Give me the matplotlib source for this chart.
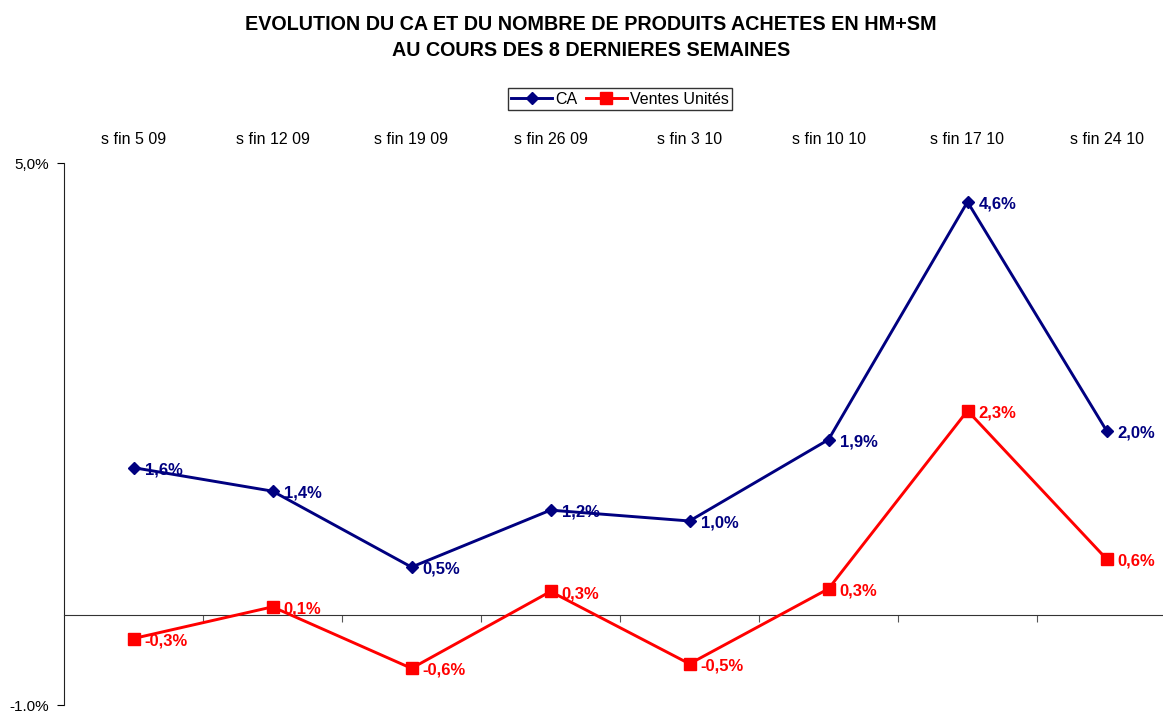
import numpy as np
import matplotlib.pyplot as plt

plt.rcParams['font.family'] = ['Liberation Sans', 'DejaVu Sans']

semaines = ["s fin 5 09", "s fin 12 09", "s fin 19 09", "s fin 26 09",
            "s fin 3 10", "s fin 10 10", "s fin 17 10", "s fin 24 10"]
ca = [1.63, 1.37, 0.53, 1.16, 1.04, 1.94, 4.57, 2.04]
ventes = [-0.26, 0.09, -0.59, 0.26, -0.54, 0.29, 2.26, 0.62]
ytick_vals = [-1.0, 5.0]
ytick_labels = ["-1.0%", "5,0%"]

fig = plt.figure(figsize=(11.63, 7.13), dpi=100)
ax = fig.add_axes([64 / 1163, 1 - 705.4 / 713, 1112 / 1163, (705.4 - 163) / 713])

x = np.arange(len(semaines))
ax.plot(x, ca, color='#000080', lw=2.1, marker='D', ms=6.5, label='CA', zorder=3)
ax.plot(x, ventes, color='#FF0000', lw=2.1, marker='s', ms=9, label='Ventes Unités', zorder=3)

def fmt(v):
    return f"{v:.1f}".replace('.', ',') + '%'

for xi, v in zip(x, ca):
    ax.annotate(fmt(v), (xi, v), xytext=(8, -1.5), textcoords='offset points',
                ha='left', va='center', fontsize=12, fontweight='bold', color='#000080')
for xi, v in zip(x, ventes):
    ax.annotate(fmt(v), (xi, v), xytext=(8, -1.5), textcoords='offset points',
                ha='left', va='center', fontsize=12, fontweight='bold', color='#FF0000')

ax.set_xlim(-0.5, 7.5)
ax.set_ylim(-1.0, 5.0)
ax.set_facecolor('none')
for s in ['top', 'right']:
    ax.spines[s].set_visible(False)
ax.spines['bottom'].set_position(('data', 0))
ax.spines['bottom'].set_color('#333333')
ax.spines['left'].set_color('#222222')

ax.set_xticks(x + 0.5)
ax.set_xticklabels([])
ax.tick_params(axis='x', direction='out', length=5, color='#555555')
ax.set_yticks(ytick_vals)
ax.set_yticklabels(ytick_labels, fontsize=11)
ax.tick_params(axis='y', direction='out', length=5, pad=6)

for xi, s in zip(x, semaines):
    ax.text(xi, 1.0 + 23 / 542, s, transform=ax.get_xaxis_transform(),
            ha='center', va='center', fontsize=11.5)

fig.text(0.508, 1 - 24 / 713, "EVOLUTION DU CA ET DU NOMBRE DE PRODUITS ACHETES EN HM+SM",
         ha='center', va='center', fontsize=14.2, fontweight='bold')
fig.text(0.508, 1 - 51 / 713, "AU COURS DES 8 DERNIERES SEMAINES",
         ha='center', va='center', fontsize=14.2, fontweight='bold')

leg = fig.legend(loc='center', bbox_to_anchor=(620 / 1163, 1 - 99 / 713), ncol=2,
                 frameon=True, fancybox=False, edgecolor='black', fontsize=11.5,
                 handlelength=2.6, handletextpad=0.2, columnspacing=0.5,
                 borderpad=0.2, markerscale=0.9)
leg.get_frame().set_linewidth(1)

fig.savefig('out.png', dpi=100)
